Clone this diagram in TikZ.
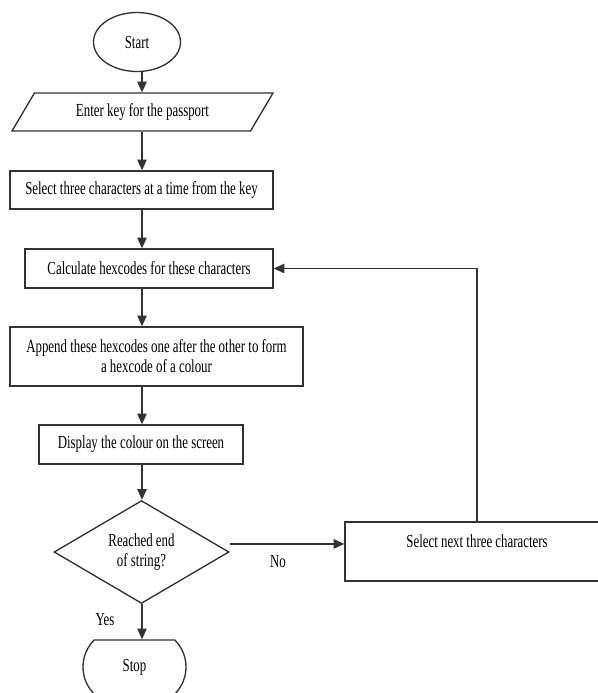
\documentclass[tikz,border=0pt]{standalone}
\usepackage{fontspec}
\setmainfont{Liberation Serif}[FakeStretch=0.7]
\usetikzlibrary{shapes.geometric,shapes.misc,arrows.meta}

\tikzset{
  box/.style={draw, inner sep=0pt, align=center},
  px/.style={x=0.75pt, y=-0.75pt},
}

\begin{document}
\begin{tikzpicture}[px, font=\fontsize{13.8}{15}\selectfont,
    line width=1pt, draw=black!80,
    >={Triangle[length=8pt,width=7pt]}]
  \useasboundingbox (0,0) rectangle (598,693);
  \def\u{0.75pt}

  \coordinate (ax) at (142,0);

  \node[box, ellipse, minimum width=87*\u, minimum height=59*\u] (start) at (137,42) {Start};
  \node[box, trapezium, trapezium left angle=37, trapezium right angle=143,
        trapezium stretches body, minimum width=261*\u, minimum height=38*\u] (key) at (142.5,112) {Enter key for the passport};
  \node[box, minimum width=263*\u, minimum height=38*\u] (sel) at (141.5,190) {Select three characters at a time from the key};
  \node[box, minimum width=248*\u, minimum height=39*\u] (calc) at (149,268.5) {Calculate hexcodes for these characters};
  \node[box, minimum width=293*\u, minimum height=59*\u] (app) at (156.5,356.5) {Append these hexcodes one after the other to form\\a hexcode of a colour};
  \node[box, minimum width=204*\u, minimum height=39*\u] (disp) at (141,444.5) {Display the colour on the screen};
  \node[box, diamond, minimum width=175*\u, minimum height=98*\u] (dec) at (141.5,552) {Reached end\\of string?};
  \node[box, minimum width=264*\u, text height=25*\u, text depth=34*\u] (nxt) at (477,551.5) {Select next three characters};
  \node[box, rounded rectangle, rounded rectangle arc length=90, minimum width=103*\u, minimum height=54*\u] (stop) at (134.5,667) {Stop};

  \node (yes) at (105,620) {Yes};
  \node (no)  at (278,562) {No};

  \draw[->] (ax |- start.south) -- (ax |- key.north);
  \draw[->] (ax |- key.south) -- (ax |- sel.north);
  \draw[->] (ax |- sel.south) -- (ax |- calc.north);
  \draw[->] (ax |- calc.south) -- (ax |- app.north);
  \draw[->] (ax |- app.south) -- (ax |- disp.north);
  \draw[->] (ax |- disp.south) -- (ax |- dec.north);
  \draw[->] (ax |- dec.south) -- (ax |- stop.north);

  \draw[->] (dec.east |- nxt.mid) -- (nxt.west |- nxt.mid);
  \draw[->] (nxt.north) |- (calc.east);
\end{tikzpicture}
\end{document}
